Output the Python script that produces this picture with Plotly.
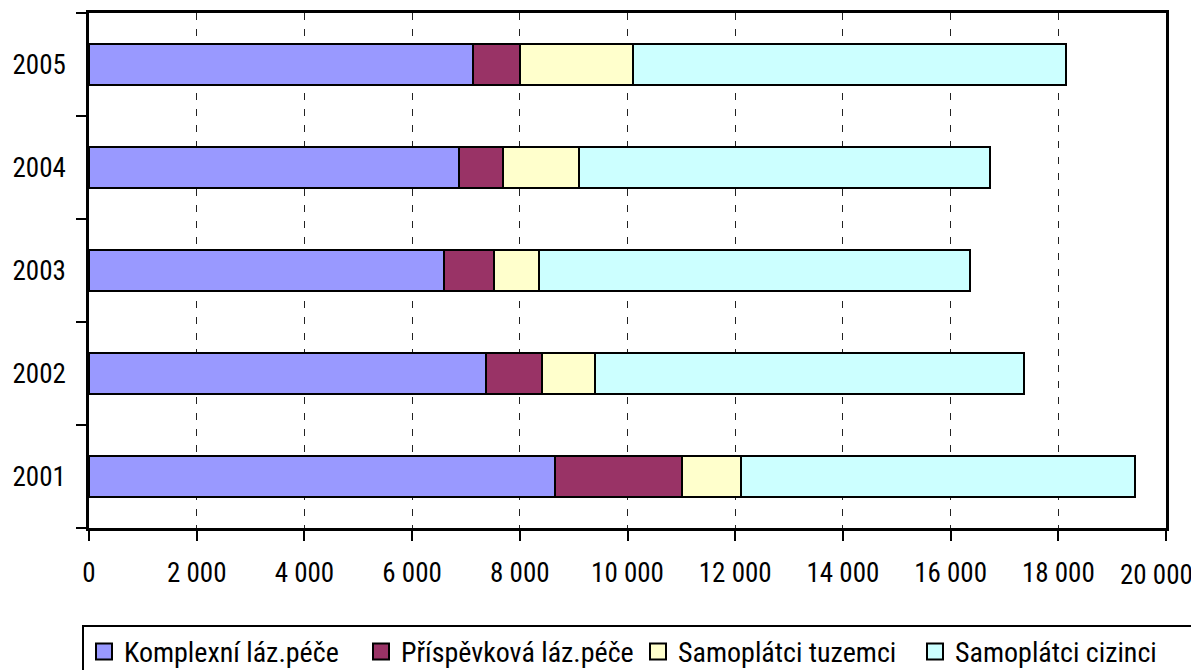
import plotly.graph_objects as go

years = ["2001", "2002", "2003", "2004", "2005"]
komplexni = [8655, 7365, 6595, 6875, 7135]
prispevkova = [2355, 1050, 930, 805, 875]
tuzemci = [1090, 980, 825, 1410, 2100]
cizinci = [7320, 7975, 8010, 7640, 8040]

series_names = ["Komplexní láz.péče", "Příspěvková láz.péče", "Samoplátci tuzemci", "Samoplátci cizinci"]
series_values = [komplexni, prispevkova, tuzemci, cizinci]
colors = ["#9999FF", "#993366", "#FFFFCC", "#CCFFFF"]

x_ticks = [0, 2000, 4000, 6000, 8000, 10000, 12000, 14000, 16000, 18000]
x_max = 20000
x_max_label = "20 000"

FONT = "Roboto Condensed"
FS = 27

fig = go.Figure()
for name, vals, col in zip(series_names, series_values, colors):
    fig.add_trace(go.Bar(
        y=years, x=vals, orientation="h", name=name,
        marker=dict(color=col, line=dict(color="black", width=2)),
        showlegend=False,
    ))
for name, col in zip(series_names, colors):
    fig.add_trace(go.Scatter(
        x=[None], y=[None], mode="markers", name=name,
        marker=dict(symbol="square", size=16, color=col, line=dict(color="black", width=2)),
    ))

# last x tick label, nudged left so it stays inside the page (as in the original)
fig.add_annotation(
    x=x_max, xref="x", y=0, yref="paper", yanchor="top", xanchor="right",
    yshift=-29, xshift=29, text=x_max_label, showarrow=False,
    font=dict(family=FONT, size=FS, color="black"),
)

fig.update_layout(
    width=1191, height=662,
    barmode="stack", bargap=0.6,
    separators=", ",
    paper_bgcolor="white", plot_bgcolor="white",
    font=dict(family=FONT, size=FS, color="black"),
    margin=dict(l=81, r=33, t=5, b=142, autoexpand=False),
    legend=dict(
        orientation="h", x=-0.0065, xanchor="left", y=-0.188, yanchor="top",
        bordercolor="black", borderwidth=2, font=dict(size=FS + 1, family=FONT, color="black"),
        entrywidth=232, itemsizing="trace", traceorder="normal",
    ),
    xaxis=dict(
        range=[0, x_max], tickvals=x_ticks + [x_max],
        ticktext=[f"{v:,}".replace(",", " ") for v in x_ticks] + [""],
        showgrid=True, gridcolor="#222222", gridwidth=1, griddash="7px,9px",
        showline=True, linecolor="black", linewidth=2.5, mirror=True,
        ticks="outside", ticklen=10, tickwidth=2, tickcolor="black",
        zeroline=False, ticklabeloverflow="allow", ticklabelstandoff=9,
        tickfont=dict(family=FONT, size=FS, color="black"),
    ),
    yaxis=dict(
        type="category", categoryorder="array", categoryarray=years,
        tickson="boundaries", ticks="outside", ticklen=10, tickwidth=2, tickcolor="black",
        showgrid=False, showline=True, linecolor="black", linewidth=2.5, mirror=True,
        ticklabelstandoff=15,
        tickfont=dict(family=FONT, size=FS, color="black"),
    ),
)

fig.write_html("out.html")
